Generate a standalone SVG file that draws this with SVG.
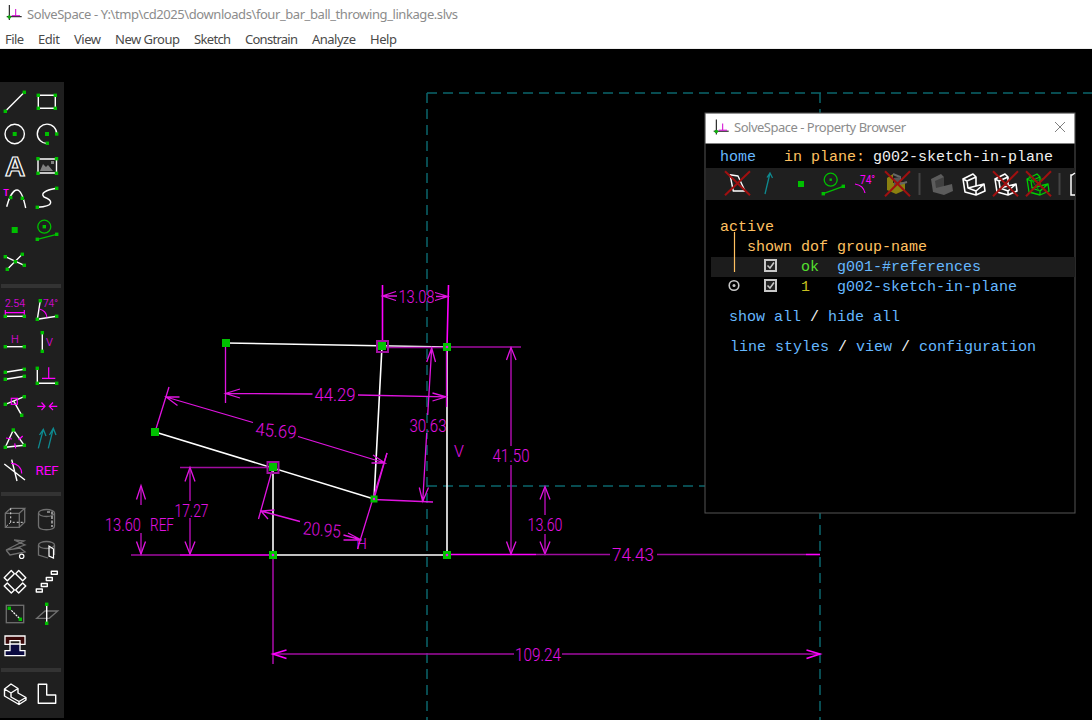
<svg xmlns="http://www.w3.org/2000/svg" width="1092" height="720" viewBox="0 0 1092 720">
<style>
.ui{font-family:"Noto Sans","Liberation Sans",sans-serif;font-size:13px}
.title{fill:#8c8c8c}
.menu{fill:#4a4a4a}
.m{font-family:"Liberation Mono","DejaVu Sans Mono",monospace;font-size:15px}
.blue{fill:#66b8ff}.or{fill:#ffc060}.wh{fill:#f0f0f0}
.dash{fill:none;stroke:#0b666c;stroke-width:1.5;stroke-dasharray:10 6}
.w{fill:none;stroke:#fff;stroke-width:1.6;stroke-linecap:round;stroke-linejoin:round}
.d{fill:none;stroke:#e014e0;stroke-width:1.3}
.dk{fill:none;stroke:#a00ca0;stroke-width:1.6}
.br{fill:none;stroke:#ff00ff;stroke-width:1.6}
.dt{font-family:Roboto,"Liberation Sans",sans-serif;font-weight:300;font-size:18px;fill:#e010e0;text-anchor:middle}
.sel{fill:none;stroke:#a010a0;stroke-width:2}
.tw{fill:none;stroke:#fff;stroke-width:1.4;stroke-linejoin:round}
.ig{fill:none;stroke:#707070;stroke-width:1.3}
.tm{fill:none;stroke:#ff00ff;stroke-width:1.2}
.tt{font-family:Roboto,"Liberation Sans",sans-serif;fill:#ff00ff}
.gn{fill:none;stroke:#00c000;stroke-width:1.3}
.tl{fill:none;stroke:#0e8a90;stroke-width:1.3}
.x{fill:none;stroke:#a01010;stroke-width:2}
.sep{fill:#333}
</style>
<defs>
<rect id="p" x="-4" y="-4" width="8" height="8" fill="#00c000"/>
<rect id="q" x="-1.7" y="-1.7" width="3.4" height="3.4" fill="#00c000"/>
<g id="logo">
<path d="M9.3 5V20M6.7 16.7H21.7" fill="none" stroke="#000" stroke-width="1"/>
<path d="M15.7 9V15.7M11.7 15.7H20" fill="none" stroke="#d000d0" stroke-width="1"/>
<circle cx="9.3" cy="17" r="1.8" fill="#10b010"/>
</g>
<path id="lw" d="M1 6L11 1L14 4V13L22 11L23 18L14 22L3 19ZM1 6L5 8L14 4M5 8L6 15L14 13M6 15L14 18L22 11M14 18V22" fill="none" stroke-linejoin="round"/>
</defs>
<rect width="1092" height="720" fill="#000"/>
<g id="window-title">
<rect width="1092" height="49" fill="#fff"/>
<rect y="48" width="1092" height="1" fill="#eee"/>
<use href="#logo"/>
<text class="ui title" x="27" y="19" textLength="431" lengthAdjust="spacing">SolveSpace - Y:\tmp\cd2025\downloads\four_bar_ball_throwing_linkage.slvs</text>
</g>
<g id="menu-bar">
<text class="ui menu" x="5" y="44" textLength="19">File</text>
<text class="ui menu" x="38" y="44" textLength="22">Edit</text>
<text class="ui menu" x="74" y="44" textLength="27">View</text>
<text class="ui menu" x="115" y="44" textLength="65">New Group</text>
<text class="ui menu" x="194" y="44" textLength="37">Sketch</text>
<text class="ui menu" x="245" y="44" textLength="53">Constrain</text>
<text class="ui menu" x="312" y="44" textLength="44">Analyze</text>
<text class="ui menu" x="370" y="44" textLength="27">Help</text>
</g>
<g id="reference-axes">
<path class="dash" d="M427 93H1092"/>
<path class="dash" d="M427 93V720"/>
<path class="dash" d="M820 93V720"/>
<path class="dash" d="M427 486H820"/>
</g>
<g id="connectors">
<g id="sketch-lines" fill="none">
<path class="w" d="M226 343L447 347"/>
<path class="w" d="M382 346L374 499"/>
<path class="w" d="M155 432L374 499"/>
<path class="w" d="M273 467V555"/>
<path class="w" d="M273 555H447"/>
<path class="w" d="M447 347V555"/>
</g>
<g id="dim-13-08">
<path class="br" d="M382.5 285V346M448.5 285L447 347"/>
<path class="d" d="M382.5 296H397M436 296.5H448M396 291.5L382.5 296L396 300.5M435 292.5L448 296.5L435 300.5"/>
</g>
<g id="dim-44-29">
<path class="d" d="M225.5 343V403M225.5 393.5L312.5 394M358 395L446 396.8M240 389L225.5 393.5L240 398M432.5 393L446 396.8L432.5 401M446.5 347V407"/>
</g>
<g id="dim-45-69">
<path class="d" d="M155 432L169 387M166 397L253 422.5M298 436.5L385 463M179.5 397L166 397L177.5 405.5M387 453L374 499M371.5 463L385 463L373 455"/>
</g>
<g id="dim-30-63">
<path class="dk" d="M447 347.5H382"/>
<path class="d" d="M431.7 348L427.7 415M426.7 433L422.7 501.5M426.7 362L431.7 348L435.5 362M419.3 487.5L422.7 501.5L428.5 487.5M374 499.5L433 502"/>
</g>
<g id="dim-41-50">
<path class="dk" d="M447 347H521M511 347V446M511 465V554"/>
<path class="d" d="M506.5 360L511 347.5L516 360M506.5 541.5L511 554L516 541.5"/>
</g>
<g id="dim-13-60-right">
<path class="dk" d="M545 487V515M545 534V554"/>
<path class="d" d="M540 499.5L545 486.5L550 499.5M540 541.5L545 554L550 541.5"/>
</g>
<g id="dim-74-43">
<path class="br" d="M447 554.5H536"/>
<path class="dk" d="M536 554.5H610M657 554.5H806"/>
<path class="br" d="M806 554.5H820"/>
</g>
<g id="dim-13-60-ref">
<path class="dk" d="M131 555H180M141 486V505M141 533V554"/>
<path class="d" d="M136.5 499.5L141 485.5L145.5 499.5M136.5 541.5L141 554L145.5 541.5"/>
</g>
<g id="dim-17-27">
<path class="dk" d="M180 467.5H273M190 467.5V501M190 518V554"/>
<path class="br" d="M180 555H273"/>
<path class="d" d="M185 481.5L190 467.5L195 481.5M185 541.5L190 554L195 541.5"/>
</g>
<g id="dim-20-95">
<path class="d" d="M273 467L258.5 519M261 511L300 521.5M343.5 535L361.5 540M274.5 510L261 511L268 519M387 453L357.5 549M343.5 540L361.5 540L348 533"/>
</g>
<g id="dim-109-24">
<path class="dk" d="M273 555V664M273 654H514M562 654H820"/>
<path class="br" d="M286.5 650L273 654L286.5 658.5M806.5 650L820 654L806.5 658.5"/>
</g>
</g>
<g id="labels">
<text class="dt" x="416.500" y="302.500" textLength="36" lengthAdjust="spacingAndGlyphs">13.08</text>
<text class="dt" x="335" y="401" textLength="41" lengthAdjust="spacingAndGlyphs">44.29</text>
<text class="dt" x="276" y="437" textLength="41" lengthAdjust="spacingAndGlyphs" transform="rotate(5 276 431)">45.69</text>
<text class="dt" x="428" y="432" textLength="37" lengthAdjust="spacingAndGlyphs">30.63</text>
<text class="dt" x="459" y="457" style="font-size:16px">V</text>
<text class="dt" x="511" y="462" textLength="37" lengthAdjust="spacingAndGlyphs">41.50</text>
<text class="dt" x="545" y="531" textLength="35" lengthAdjust="spacingAndGlyphs">13.60</text>
<text class="dt" x="633" y="561" textLength="42" lengthAdjust="spacingAndGlyphs">74.43</text>
<text class="dt" x="123" y="531" textLength="36" lengthAdjust="spacingAndGlyphs">13.60</text>
<text class="dt" x="162" y="531" textLength="24" lengthAdjust="spacingAndGlyphs">REF</text>
<text class="dt" x="191.500" y="516.500" textLength="34" lengthAdjust="spacingAndGlyphs">17.27</text>
<text class="dt" x="322" y="536" textLength="38" lengthAdjust="spacingAndGlyphs" transform="rotate(5 322 530)">20.95</text>
<text class="dt" x="361.500" y="549" style="font-size:15px">H</text>
<text class="dt" x="538" y="661" textLength="46" lengthAdjust="spacingAndGlyphs">109.24</text>
</g>
<g id="pt-a"><use href="#p" x="226" y="343"/></g>
<g id="pt-b"><rect class="sel" x="377" y="341" width="11" height="11"/><use href="#p" x="382" y="346"/></g>
<g id="pt-c"><use href="#p" x="447" y="347"/><circle cx="447" cy="347" r="1.300" fill="#f0f"/></g>
<g id="pt-d"><use href="#p" x="155" y="432"/></g>
<g id="pt-e"><rect class="sel" x="267.500" y="462" width="11" height="11"/><use href="#p" x="273" y="467"/></g>
<g id="pt-f"><rect x="370.500" y="495.500" width="7" height="7" fill="#00c000"/><circle cx="374" cy="499" r="1.200" fill="#f0f"/></g>
<g id="pt-g"><use href="#p" x="273" y="555"/><circle cx="273" cy="555" r="1.300" fill="#f0f"/></g>
<g id="pt-h"><use href="#p" x="447" y="555"/><circle cx="447" cy="555" r="1.300" fill="#f0f"/></g>
<g id="toolbar">
<rect x="0" y="82" width="64" height="636" fill="#1f1f1f"/>
<rect class="sep" x="1" y="284" width="60" height="4"/>
<rect class="sep" x="1" y="492" width="60" height="4"/>
<rect class="sep" x="1" y="668" width="60" height="4"/>
<g id="tb-line"><path class="tw" d="M5.300 111.300L24.300 92.300"/><use href="#q" x="5.300" y="111.300"/><use href="#q" x="24.300" y="92.300"/></g>
<g id="tb-rect"><rect class="tw" x="38.300" y="95.300" width="17" height="13"/><use href="#q" x="38.300" y="95.300"/><use href="#q" x="55.300" y="95.300"/><use href="#q" x="38.300" y="108.300"/><use href="#q" x="55.300" y="108.300"/></g>
<g id="tb-circle"><circle class="tw" cx="14.700" cy="134" r="9.700"/><rect x="12.700" y="132" width="4" height="4" fill="#00c000"/></g>
<g id="tb-arc"><path class="tw" d="M56.700 134A9.700 9.700 0 1 0 47.300 143.500"/><rect x="45" y="132" width="4" height="4" fill="#00c000"/><use href="#q" x="56.700" y="134"/><use href="#q" x="47.300" y="143.300"/></g>
<g id="tb-text"><text x="15" y="176" text-anchor="middle" font-family="'Liberation Sans',sans-serif" font-weight="bold" font-size="28" fill="#1f1f1f" stroke="#fff" stroke-width="1.200">A</text></g>
<g id="tb-image"><rect class="tw" x="38" y="159" width="18.500" height="14" stroke-width="1.600"/><path d="M40 171L43 164L46 167L48 165L53 171Z" fill="#808080"/><rect x="51" y="161" width="3" height="3" fill="#808080"/><use href="#q" x="38" y="158.700"/><use href="#q" x="56.500" y="158.700"/><use href="#q" x="38" y="173.300"/><use href="#q" x="56.500" y="173.300"/></g>
<g id="tb-cubic"><path class="tw" d="M6.700 206.700C9 198 13 190 17 190C21 190 24 200 25.700 208"/><use href="#q" x="10.700" y="197.500"/><use href="#q" x="22.300" y="198.300"/><text class="tt" x="6" y="196" text-anchor="middle" font-weight="bold" font-size="9">T</text></g>
<g id="tb-spline"><path class="tw" d="M37.300 207.300C56 206 52 200 44 197C40 193 46 190 56.700 188.300"/><use href="#q" x="37.300" y="207.300"/><use href="#q" x="56.700" y="188.300"/></g>
<g id="tb-point"><rect x="11.700" y="227" width="6" height="6" fill="#00c000"/></g>
<g id="tb-workplane"><circle class="gn" cx="44.300" cy="226.700" r="6.500"/><path class="gn" d="M37.300 239.300L56.700 234.300"/><use href="#q" x="44.300" y="226.700"/><use href="#q" x="37.300" y="239.300"/><use href="#q" x="56.700" y="234.300"/></g>
<g id="tb-intersect"><path class="tw" d="M5.300 256.700L24.300 265.300M7.300 269.300L22.300 254.300"/><use href="#q" x="5.300" y="256.700"/><use href="#q" x="24.300" y="265.300"/><use href="#q" x="7.300" y="269.300"/><use href="#q" x="22.300" y="254.300"/><use href="#q" x="15.300" y="261.700"/></g>
<g id="tb-dist"><text class="tt" x="15" y="307" text-anchor="middle" font-size="11" font-weight="300" textLength="20" lengthAdjust="spacingAndGlyphs">2.54</text><path class="tm" d="M5.300 312.700H24.300M5.300 310V315M24.300 310V315"/><path class="tw" d="M5.300 316.300H24.300"/><use href="#q" x="5.300" y="316.300"/><use href="#q" x="24.300" y="316.300"/></g>
<g id="tb-angle"><path class="tw" d="M40.300 300.700L37.300 319.300L56.700 316.300"/><path class="tm" d="M39.300 309A10 10 0 0 1 47 317.500"/><text class="tt" x="43" y="307" font-size="11" font-weight="300" textLength="15" lengthAdjust="spacingAndGlyphs">74°</text><use href="#q" x="40.300" y="300.700"/><use href="#q" x="37.300" y="319.300"/><use href="#q" x="56.700" y="316.300"/></g>
<g id="tb-h"><text class="tt" x="15" y="343" text-anchor="middle" font-size="11" font-weight="300">H</text><path class="tw" d="M5.300 346.700H24.300"/><use href="#q" x="5.300" y="346.700"/><use href="#q" x="24.300" y="346.700"/></g>
<g id="tb-v"><text class="tt" x="49.500" y="346" text-anchor="middle" font-size="11" font-weight="300">V</text><path class="tw" d="M42.300 332.700V351.300"/><use href="#q" x="42.300" y="332.700"/><use href="#q" x="42.300" y="351.300"/></g>
<g id="tb-parallel"><path class="tw" d="M5.300 372.300L24.300 369.300M5.300 379.300L24.300 376.300"/><use href="#q" x="5.300" y="372.300"/><use href="#q" x="24.300" y="369.300"/><use href="#q" x="5.300" y="379.300"/><use href="#q" x="24.300" y="376.300"/></g>
<g id="tb-perp"><path class="tw" d="M37.300 368.300V383.300H56.700"/><path class="tm" d="M48.700 367.300V378.300M42 378.300H55.300"/><use href="#q" x="37.300" y="368.300"/><use href="#q" x="37.300" y="383.300"/><use href="#q" x="56.700" y="383.300"/></g>
<g id="tb-onpoint"><path class="tw" d="M5.300 404.300L24.300 396.700M14 401.700L21.700 415.300"/><rect class="tm" x="11.300" y="398.300" width="6" height="6"/><use href="#q" x="5.300" y="404.300"/><use href="#q" x="24.300" y="396.700"/><use href="#q" x="21.700" y="415.300"/></g>
<g id="tb-equal"><path class="tm" d="M37.300 406.300H45M41.500 402.500L45 406.300L41.500 410M57.300 406.300H49.300M53 402.500L49.300 406.300L53 410"/></g>
<g id="tb-triangle"><path class="tw" d="M13.300 430L5.300 447.300L24.300 445.300Z"/><path class="tm" d="M6 438L12 439M18.700 440L22.700 436M14.700 443.300L15.700 448.300"/><use href="#q" x="13.300" y="430"/><use href="#q" x="5.300" y="447.300"/><use href="#q" x="24.300" y="445.300"/></g>
<g id="tb-para-arrows"><path class="tl" d="M38.300 448.300L43.300 429.300M39.500 435L43.300 429.300L46 436M48.300 448.300L53.300 428.300M49.500 435L53.300 428.300L56 435"/></g>
<g id="tb-same-angle"><path class="tw" d="M4.300 464L25 480M11.700 459.700L17 481"/><path class="tm" d="M11 463.500A10 10 0 0 1 21.700 473.500"/></g>
<g id="tb-ref"><text class="tt" x="35.500" y="475" font-size="13" textLength="23" lengthAdjust="spacingAndGlyphs">REF</text></g>
<g id="tb-extrude"><path class="ig" d="M5.300 513.300H19.300V527.300H5.300ZM5.300 513.300L10.700 508.300H24.700L19.300 513.300M24.700 508.300V522.300L19.300 527.300"/><path d="M10.700 508.300V522.300H24.700M10.700 522.300L5.300 527.300" fill="none" stroke="#ddd" stroke-width="1" stroke-dasharray="2 2"/></g>
<g id="tb-lathe"><ellipse class="ig" cx="46.500" cy="513" rx="8" ry="3.500"/><path class="ig" d="M38.500 513V526C38.500 531 54.500 531 54.500 526V513"/><path d="M47 512H52V527" fill="none" stroke="#ddd" stroke-width="1.200" stroke-dasharray="3 1.500"/></g>
<g id="tb-helix"><path class="ig" d="M6 550L16 545L24 541L14 540M6 550L20 548L25 552L10 555L6 550M14 540L25 545L13 549"/><circle cx="21.700" cy="556.300" r="2.200" fill="none" stroke="#fff" stroke-width="1.200"/></g>
<g id="tb-revolve"><ellipse class="ig" cx="46.500" cy="545" rx="8" ry="3.500"/><path class="ig" d="M38.500 545V555L48 558M54.500 545V555"/><path d="M49 546V556L53.500 558V549Z" fill="none" stroke="#fff" stroke-width="1.200"/></g>
<g id="tb-step-rotate"><rect class="tw" x="-5" y="-2.200" width="10" height="4.400" transform="translate(9.300 575.700) rotate(-45)"/><rect class="tw" x="-5" y="-2.200" width="10" height="4.400" transform="translate(20.700 575.700) rotate(45)"/><rect class="tw" x="-5" y="-2.200" width="10" height="4.400" transform="translate(9.300 588) rotate(45)"/><rect class="tw" x="-5" y="-2.200" width="10" height="4.400" transform="translate(20.700 588) rotate(-45)"/></g>
<g id="tb-step-translate"><rect class="tw" x="36.300" y="589" width="6" height="3"/><rect class="tw" x="41.300" y="583.500" width="6" height="3"/><rect class="tw" x="46.300" y="577.500" width="6" height="3"/><rect class="tw" x="51.300" y="571.200" width="6" height="3"/></g>
<g id="tb-inwp"><rect class="ig" x="6.300" y="605.300" width="17.400" height="17.400"/><path d="M9.300 608.300L20.300 619.300" stroke="#fff" stroke-width="1.200" stroke-dasharray="2 1"/><use href="#q" x="9.300" y="608.300"/><use href="#q" x="20.300" y="619.300"/></g>
<g id="tb-normal"><path class="ig" d="M36.700 618.300H49.300L57.700 611H45Z"/><path class="tw" d="M46.700 604.300V623.300"/><use href="#q" x="46.700" y="604.300"/><use href="#q" x="46.700" y="623.300"/></g>
<g id="tb-assemble"><path d="M5 636H25V644.300H20V640.700H10V644.300H5Z" fill="#3a0808" stroke="#fff" stroke-width="1.300"/><path d="M10 644H20V650.700H25V655.700H5V650.700H10Z" fill="#0a0a40" stroke="#fff" stroke-width="1.300"/></g>
<g id="tb-iso"><path class="tw" d="M4.500 689L11 684L18 688.500V693L26 697.500V700L19 704.500L4.500 696ZM4.500 689L11 693L18 688.500M11 693V697L19 701.500L26 697.500M19 701.500V704.500"/></g>
<g id="tb-ortho"><path class="tw" d="M38.300 684.300H46.700V695H55.700V703.300H38.300Z"/></g>
</g>
<g id="property-browser">
<rect x="705" y="113" width="370" height="400" fill="#000" stroke="#555" stroke-width="1"/>
<rect x="705.500" y="113.500" width="369" height="30" fill="#fff"/>
<use href="#logo" x="707" y="114.500"/>
<text class="ui title" x="734" y="132" textLength="172">SolveSpace - Property Browser</text>
<path d="M1055 122L1065 132M1065 122L1055 132" stroke="#808080" stroke-width="1" fill="none"/>
<text class="m blue" x="720" y="161">home</text>
<text class="m or" x="784" y="161">in plane:</text>
<text class="m wh" x="873" y="161">g002-sketch-in-plane</text>
<rect x="706" y="168" width="368.500" height="32" fill="#1f1f1f"/>
<g id="pb-workplanes"><path class="tw" d="M730 174.700L738 176L745 191L733.300 191Z"/><path class="x" d="M725 171.300L750 195.300M750 171.300L725 195.300"/></g>
<g id="pb-normals"><path class="tl" d="M765 194L770 173M767 177.500L770 173L772.500 178"/></g>
<g id="pb-points"><rect x="798" y="181" width="6" height="6" fill="#00c000"/></g>
<g id="pb-wp"><circle class="gn" cx="830.700" cy="179.700" r="6.500"/><rect x="829.500" y="178.500" width="2.400" height="2.400" fill="#00c000"/><path class="gn" d="M823.300 193.700L843.300 186.300"/><use href="#q" x="823.300" y="193.700"/><use href="#q" x="843.300" y="186.300"/></g>
<g id="pb-constraints"><text class="tt" x="860" y="184" font-size="12" textLength="15" lengthAdjust="spacingAndGlyphs">74°</text><path class="tm" d="M855 184C861 185 864 188 865 193"/></g>
<g id="pb-faces"><path d="M887 178L893 174V183L905 182V190L896 194L887 190Z" fill="#8a8010"/><path d="M893 174L900 177V184L907 182" fill="none" stroke="#666" stroke-width="2"/><path d="M894 178L900 177V184L894 186Z" fill="#555"/><path class="x" d="M885 171.300L910 196.300M910 171.300L885 196.300"/></g>
<rect x="918.500" y="173" width="2" height="22" fill="#444"/>
<g id="pb-solid"><path d="M931 179L941 174L944 177V186L952 184L953 191L944 195L933 192Z" fill="#5c5c5c"/><path d="M935 181L944 177V186L936 188Z" fill="#404040"/></g>
<g id="pb-wire"><use href="#lw" x="962" y="173" stroke="#fff" stroke-width="1.600"/></g>
<g id="pb-wire-x"><use href="#lw" x="994" y="173" stroke="#fff" stroke-width="1.600"/><path class="x" d="M993 171.300L1018 196.300M1018 171.300L993 196.300"/></g>
<g id="pb-mesh"><use href="#lw" x="1026" y="173" stroke="#00d000" stroke-width="1.300"/><path d="M1029 176L1040 192M1032 182L1045 178" stroke="#00a000" fill="none"/><path class="x" d="M1026 171.300L1051 196.300M1051 171.300L1026 196.300"/></g>
<rect x="1058.500" y="173" width="2" height="22" fill="#444"/>
<path d="M1075 173L1072 175H1071V195H1075" fill="none" stroke="#fff" stroke-width="1.500"/>
<text class="m or" x="720" y="231">active</text>
<path d="M734.500 232V272" stroke="#ffc060" stroke-width="1.200" fill="none"/>
<text class="m or" x="747" y="251">shown</text>
<text class="m or" x="801" y="251">dof</text>
<text class="m or" x="837" y="251">group-name</text>
<rect x="711" y="257" width="364" height="20" fill="#1c1c1c"/>
<path d="M734.500 257V272" stroke="#ffc060" stroke-width="1.200" fill="none"/>
<g id="row-g001">
<rect x="765" y="260" width="11" height="11" fill="#222" stroke="#c8c8c8" stroke-width="2"/>
<path d="M767.500 265.500L770 268L774 262.500" fill="none" stroke="#c8c8c8" stroke-width="1.500"/>
<text class="m" x="801" y="271" fill="#55e030">ok</text>
<text class="m blue" x="837" y="271">g001-#references</text>
</g>
<g id="row-g002">
<circle cx="734" cy="285.500" r="4.800" fill="none" stroke="#c8c8c8" stroke-width="1.600"/>
<circle cx="734" cy="285.500" r="1.500" fill="#c8c8c8"/>
<rect x="765" y="280" width="11" height="11" fill="#222" stroke="#c8c8c8" stroke-width="2"/>
<path d="M767.500 285.500L770 288L774 282.500" fill="none" stroke="#c8c8c8" stroke-width="1.500"/>
<text class="m" x="801" y="291" fill="#c8c020">1</text>
<text class="m blue" x="837" y="291">g002-sketch-in-plane</text>
</g>
<text class="m blue" x="729" y="321">show all <tspan class="wh">/</tspan> hide all</text>
<text class="m blue" x="730" y="351">line styles <tspan class="wh">/</tspan> view <tspan class="wh">/</tspan> configuration</text>
</g>
</svg>
